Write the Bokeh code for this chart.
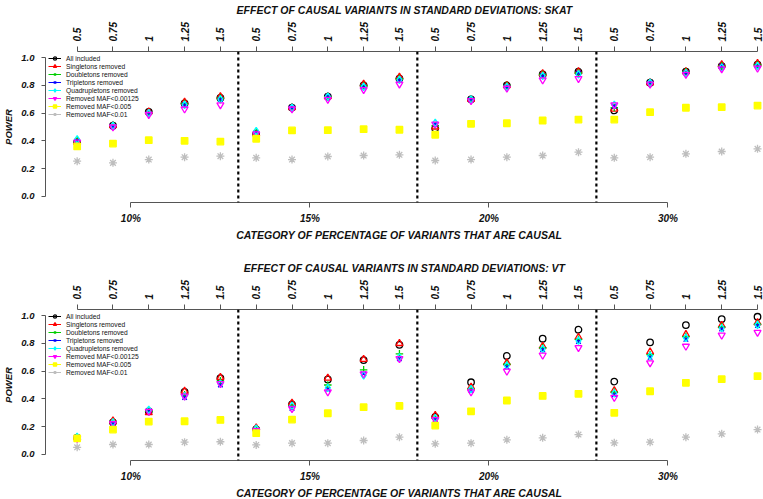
from bokeh.plotting import figure
from bokeh.layouts import column
from bokeh.models import (Range1d, LinearAxis, FixedTicker, NumeralTickFormatter,
                          Span, Legend, LegendItem, ColumnDataSource, Title)
from bokeh.embed import file_html
from bokeh.resources import INLINE

# ---------------- data ----------------
effects = ["0.5", "0.75", "1", "1.25", "1.5"]
categories = ["10%", "15%", "20%", "30%"]
series_names = ["All included", "Singletons removed", "Doubletons removed",
                "Tripletons removed", "Quadrupletons removed",
                "Removed MAF<0.00125", "Removed MAF<0.005", "Removed MAF<0.01"]

skat_all = [0.39, 0.51, 0.61, 0.67, 0.71, 0.45, 0.64, 0.72, 0.80, 0.85,
            0.49, 0.70, 0.80, 0.88, 0.90, 0.62, 0.82, 0.90, 0.94, 0.95]
skat_single = [0.39, 0.51, 0.61, 0.68, 0.72, 0.45, 0.64, 0.72, 0.81, 0.86,
               0.50, 0.70, 0.80, 0.885, 0.90, 0.63, 0.82, 0.90, 0.95, 0.96]
skat_double = [0.40, 0.51, 0.60, 0.67, 0.71, 0.46, 0.64, 0.72, 0.80, 0.85,
               0.51, 0.70, 0.80, 0.88, 0.89, 0.64, 0.82, 0.90, 0.94, 0.95]
skat_triple = [0.40, 0.50, 0.60, 0.66, 0.70, 0.46, 0.64, 0.72, 0.79, 0.84,
               0.52, 0.70, 0.79, 0.87, 0.89, 0.65, 0.82, 0.89, 0.94, 0.94]
skat_quad = [0.41, 0.51, 0.60, 0.66, 0.70, 0.47, 0.64, 0.72, 0.79, 0.84,
             0.53, 0.70, 0.79, 0.87, 0.88, 0.66, 0.82, 0.89, 0.93, 0.94]
skat_maf00125 = [0.39, 0.50, 0.59, 0.63, 0.66, 0.45, 0.63, 0.70, 0.77, 0.81,
                 0.52, 0.69, 0.78, 0.84, 0.85, 0.66, 0.81, 0.88, 0.92, 0.925]
skat_maf005 = [0.36, 0.38, 0.405, 0.40, 0.395, 0.415, 0.475, 0.477, 0.484, 0.48,
               0.444, 0.523, 0.527, 0.547, 0.554, 0.554, 0.607, 0.639, 0.643, 0.655]
skat_maf01 = [0.253, 0.241, 0.265, 0.282, 0.289, 0.277, 0.265, 0.287, 0.294, 0.299,
              0.258, 0.265, 0.282, 0.294, 0.318, 0.277, 0.282, 0.306, 0.323, 0.342]

vt_all = [0.12, 0.23, 0.31, 0.45, 0.55, 0.18, 0.36, 0.54, 0.68, 0.79,
          0.27, 0.52, 0.71, 0.835, 0.90, 0.525, 0.808, 0.933, 0.976, 0.993]
vt_single = [0.12, 0.24, 0.30, 0.455, 0.555, 0.19, 0.37, 0.55, 0.685, 0.80,
             0.28, 0.485, 0.66, 0.78, 0.845, 0.46, 0.74, 0.865, 0.93, 0.95]
vt_double = [0.12, 0.23, 0.31, 0.43, 0.53, 0.18, 0.35, 0.50, 0.61, 0.725,
             0.26, 0.47, 0.65, 0.77, 0.83, 0.45, 0.72, 0.85, 0.92, 0.94]
vt_triple = [0.115, 0.22, 0.315, 0.41, 0.50, 0.17, 0.33, 0.47, 0.58, 0.69,
             0.25, 0.46, 0.63, 0.755, 0.815, 0.43, 0.70, 0.83, 0.905, 0.93]
vt_quad = [0.125, 0.23, 0.32, 0.42, 0.51, 0.185, 0.35, 0.48, 0.57, 0.70,
           0.26, 0.47, 0.64, 0.76, 0.82, 0.44, 0.71, 0.84, 0.91, 0.935]
vt_maf00125 = [0.115, 0.22, 0.31, 0.42, 0.51, 0.17, 0.33, 0.45, 0.58, 0.69,
               0.25, 0.45, 0.60, 0.715, 0.77, 0.41, 0.66, 0.78, 0.86, 0.88]
vt_maf005 = [0.115, 0.178, 0.236, 0.238, 0.248, 0.152, 0.25, 0.296, 0.34, 0.349,
             0.207, 0.31, 0.388, 0.421, 0.436, 0.299, 0.455, 0.516, 0.542, 0.564]
vt_maf01 = [0.05, 0.07, 0.07, 0.087, 0.09, 0.067, 0.08, 0.08, 0.099, 0.123,
            0.075, 0.08, 0.104, 0.118, 0.142, 0.082, 0.087, 0.123, 0.147, 0.178]

skat = [skat_all, skat_single, skat_double, skat_triple, skat_quad,
        skat_maf00125, skat_maf005, skat_maf01]
vt = [vt_all, vt_single, vt_double, vt_triple, vt_quad,
      vt_maf00125, vt_maf005, vt_maf01]

# ---------------- styles ----------------
colors = ["#000000", "#FF0000", "#00CD00", "#0000FF", "#00FFFF", "#FF00FF", "#FFFF00", "#BEBEBE"]
markers = ["circle", "triangle", "cross", "x", "diamond", "inverted_triangle", "square", "asterisk"]
sizes = [6.5, 7, 7.5, 6.5, 7.5, 7, 6.5, 8]
filled = [False, False, False, False, False, False, True, False]

FONT = "Liberation Sans"
AXIS_COL = "#555555"
TXT_COL = "#111111"
W = 763

n_eff = len(effects)
xs = [g * n_eff + e + 1 for g in range(len(categories)) for e in range(n_eff)]
x_labels = [effects[e] for g in range(len(categories)) for e in range(n_eff)]
cat_ticks = [g * n_eff + 2.5 for g in range(len(categories))]
sep_locs = [g * n_eff + 0.5 for g in range(1, len(categories))]
x_title = "CATEGORY OF PERCENTAGE OF VARIANTS THAT ARE CAUSAL"
legend_proxy_y = [float("nan")] * len(xs)   # invisible line, only used for legend glyphs


def make_panel(data, title, height, mtop, mbottom):
    p = figure(width=W, height=height,
               x_range=Range1d(0.116, 20.167), y_range=Range1d(-0.0455, 1.0455),
               output_backend="svg", toolbar_location=None,
               x_axis_location=None, y_axis_location=None,
               min_border_left=44, min_border_right=0,
               min_border_top=mtop, min_border_bottom=mbottom)
    p.grid.visible = False
    p.outline_line_color = None
    p.background_fill_color = "white"

    # top axis: effect sizes (+ panel title)
    top = LinearAxis(ticker=FixedTicker(ticks=xs),
                     major_label_overrides={x: l for x, l in zip(xs, x_labels)},
                     bounds=(xs[0], xs[-1]), axis_label=title)
    top.major_label_orientation = "vertical"
    # bottom axis: categories
    bot = LinearAxis(ticker=FixedTicker(ticks=cat_ticks),
                     major_label_overrides={x: l for x, l in zip(cat_ticks, categories)},
                     bounds=(cat_ticks[0], cat_ticks[-1]))
    # left axis: power
    left = LinearAxis(ticker=FixedTicker(ticks=[0, 0.2, 0.4, 0.6, 0.8, 1.0]),
                      formatter=NumeralTickFormatter(format="0.0"),
                      bounds=(0, 1), axis_label="POWER")
    for ax in (top, bot, left):
        ax.axis_line_color = AXIS_COL
        ax.major_tick_line_color = AXIS_COL
        ax.minor_tick_line_color = None
        ax.major_tick_in = 0
        ax.major_tick_out = 5
        ax.major_label_text_font = FONT
        ax.major_label_text_font_style = "bold italic"
        ax.major_label_text_font_size = "10px"
        ax.major_label_text_color = TXT_COL
        ax.axis_label_text_font = FONT
        ax.axis_label_text_font_style = "bold italic"
        ax.axis_label_text_font_size = "10.5px"
        ax.axis_label_text_color = TXT_COL
    left.major_tick_out = 4
    left.major_label_text_font_size = "9.5px"
    left.axis_label_text_font_size = "9.5px"
    top.major_label_standoff = 5
    top.axis_label_standoff = 3
    bot.major_label_standoff = 5
    left.major_label_standoff = 7
    left.axis_label_standoff = 4
    p.add_layout(top, "above")
    p.add_layout(bot, "below")
    p.add_layout(left, "left")

    # x-axis title below the category labels, centred on the category axis
    p.add_layout(Title(text=x_title, align="right", offset=201, standoff=0,
                       text_font=FONT, text_font_style="bold italic",
                       text_font_size="10.5px", text_color=TXT_COL), "below")

    for loc in sep_locs:
        p.add_layout(Span(location=loc, dimension="height", line_color="black",
                          line_dash="3 3", line_width=2.2))

    items = []
    for name, vals, c, m, s, f in zip(series_names, data, colors, markers, sizes, filled):
        src = ColumnDataSource(dict(x=xs, y=vals))
        lr = p.line(xs, legend_proxy_y, line_color=c, line_width=1)
        r = p.scatter("x", "y", source=src, marker=m, size=s, line_color=c,
                      line_width=1.3, fill_color=c if f else None)
        items.append(LegendItem(label=name, renderers=[lr, r]))
    leg = Legend(items=items, location="top_left", margin=0, padding=3,
                 spacing=0, label_height=8, glyph_height=8, glyph_width=13,
                 label_standoff=5, label_text_font=FONT,
                 label_text_font_size="6.7px", label_text_color=TXT_COL,
                 background_fill_alpha=0, border_line_alpha=0)
    p.add_layout(leg)
    return p


p1 = make_panel(skat, "EFFECT OF CAUSAL VARIANTS IN STANDARD DEVIATIONS: SKAT", 250, 51, 48)
p2 = make_panel(vt, "EFFECT OF CAUSAL VARIANTS IN STANDARD DEVIATIONS: VT", 249, 59, 39)

layout = column(p1, p2)
open("out.html", "w").write(file_html(layout, INLINE))
